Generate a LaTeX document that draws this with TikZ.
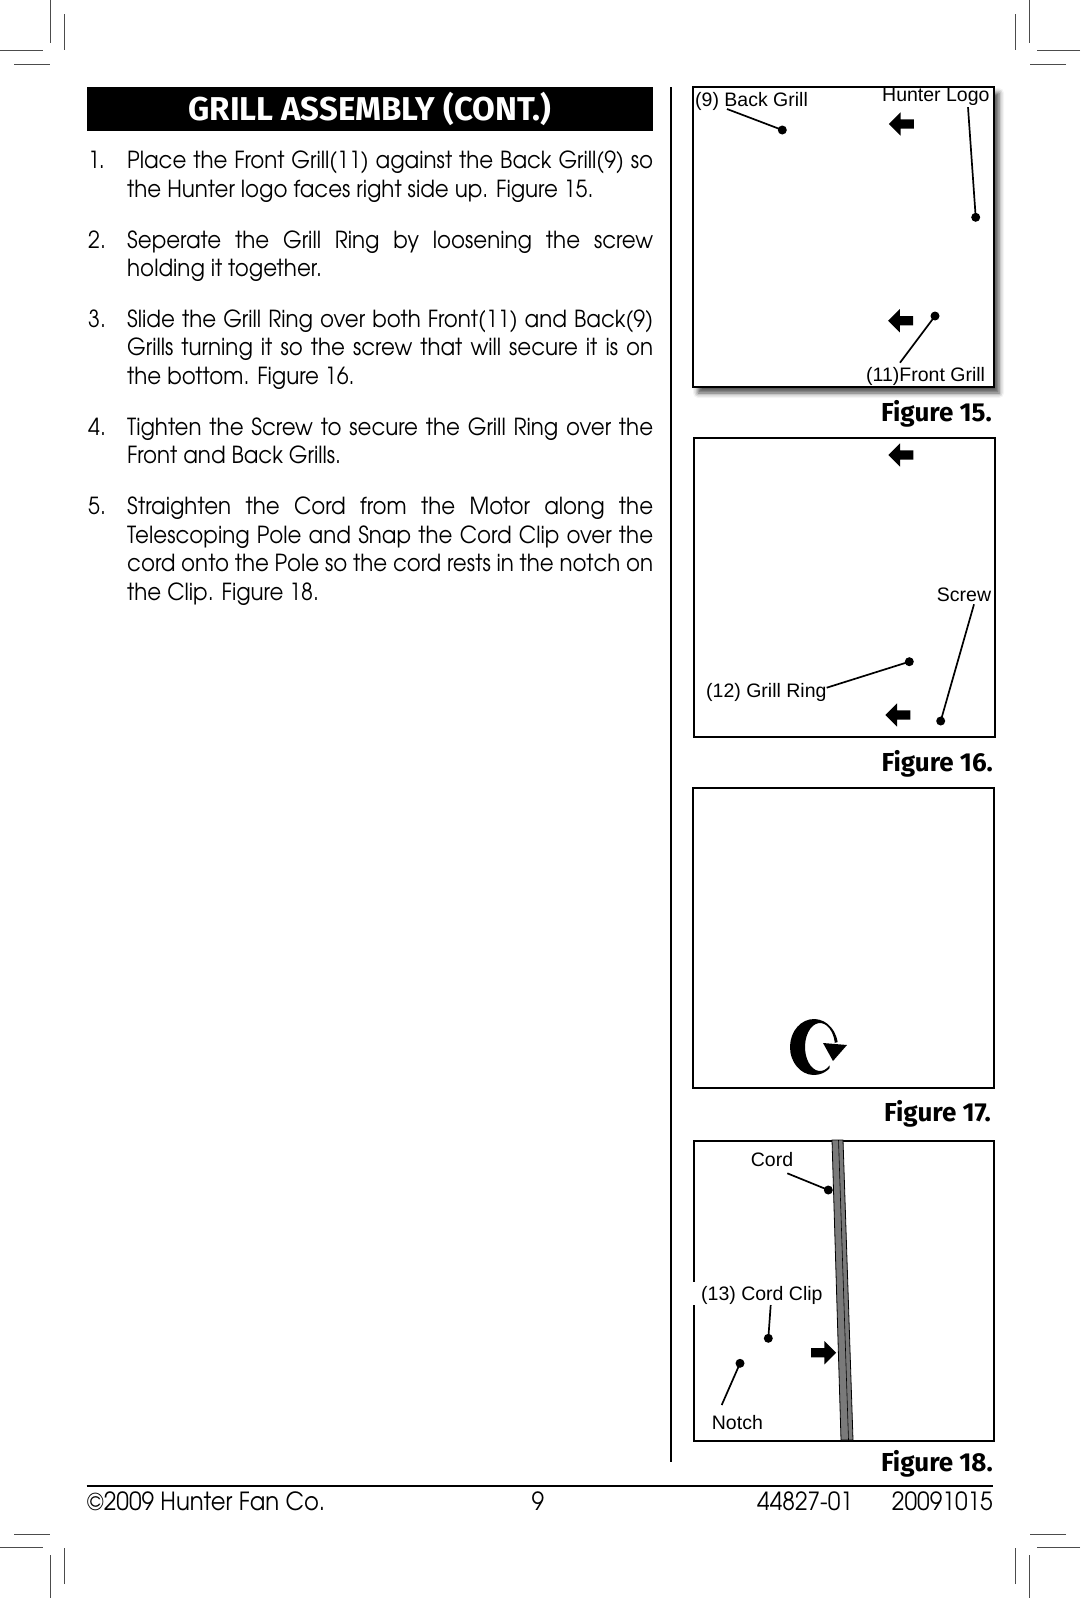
\documentclass[tikz,border=0pt]{standalone}
\usepackage{fontspec}
\setmainfont{texgyreadventor-regular.otf}[FakeStretch=0.91]
\newfontfamily\headfont{Fira Sans}
\newfontfamily\labelfont{Liberation Sans}
\usetikzlibrary{shapes.arrows,shadows.blur}

\begin{document}
\begin{tikzpicture}[x=1pt,y=-1pt,
	body/.style={anchor=base west,inner sep=0pt,font=\fontsize{23.5}{28}\selectfont},
	callout/.style={anchor=base west,inner sep=0pt,font=\labelfont\fontsize{19.5}{22}\selectfont},
	figcap/.style={anchor=base east,inner sep=0pt,font=\headfont\bfseries\fontsize{26}{30}\selectfont},
	frame/.style={draw,line width=2pt,fill=white,inner sep=0pt,anchor=north west},
	dot/.style={circle,fill,inner sep=0pt,minimum size=9pt},
	leader/.style={line width=1.7pt},
	pointer/.style={single arrow,fill,inner xsep=0pt,inner ysep=4.5pt,minimum height=25pt,single arrow head extend=7pt},
	cropmark/.style={line width=0.8pt,black!70}]
	\useasboundingbox (0,0) rectangle (1080,1598);

	% crop marks
	\foreach \sx/\sy/\ox/\oy in {1/1/0/0,-1/1/1080/0,1/-1/0/1598,-1/-1/1080/1598}{
		\begin{scope}[shift={(\ox,\oy)},xscale=\sx,yscale=\sy]
			\draw[cropmark] (50.7,0) -- (50.7,43);
			\draw[cropmark] (64.3,14) -- (64.3,50);
			\draw[cropmark] (0,50.7) -- (43,50.7);
			\draw[cropmark] (14,64) -- (50,64);
		\end{scope}
	}

	% heading and steps
	\node[fill=black,text=white,inner sep=0pt,anchor=north west,minimum width=566.4pt,minimum height=43.8pt,
		font=\headfont\bfseries\fontsize{33}{36}\selectfont] (title) at (86.6,86.6) {GRILL ASSEMBLY (CONT.)};

	\node[body] (n1) at (88,168.5) {1.};
	\node[body] (s1a) at (127,168.5) {\makebox[526pt][s]{Place the Front Grill(11) against the Back Grill(9) so}};
	\node[body] (s1b) at (127,197) {the Hunter logo faces right side up. Figure 15.};
	\node[body] (n2) at (88,248) {2.};
	\node[body] (s2a) at (127,248) {\makebox[526pt][s]{Seperate the Grill Ring by loosening the screw}};
	\node[body] (s2b) at (127,276.5) {holding it together.};
	\node[body] (n3) at (88,327) {3.};
	\node[body] (s3a) at (127,327) {\makebox[526pt][s]{Slide the Grill Ring over both Front(11) and Back(9)}};
	\node[body] (s3b) at (127,355.5) {\makebox[526pt][s]{Grills turning it so the screw that will secure it is on}};
	\node[body] (s3c) at (127,384) {the bottom. Figure 16.};
	\node[body] (n4) at (88,435) {4.};
	\node[body] (s4a) at (127,435) {\makebox[526pt][s]{Tighten the Screw to secure the Grill Ring over the}};
	\node[body] (s4b) at (127,463.5) {Front and Back Grills.};
	\node[body] (n5) at (88,514.5) {5.};
	\node[body] (s5a) at (127,514.5) {\makebox[526pt][s]{Straighten the Cord from the Motor along the}};
	\node[body] (s5b) at (127,543) {\makebox[526pt][s]{Telescoping Pole and Snap the Cord Clip over the}};
	\node[body] (s5c) at (127,571.5) {\makebox[526pt][s]{cord onto the Pole so the cord rests in the notch on}};
	\node[body] (s5d) at (127,600) {the Clip. Figure 18.};

	\draw[line width=2pt] (671,87) -- (671,1462);

	% figure 15
	\node[frame,minimum width=301pt,minimum height=300pt,
		blur shadow={shadow xshift=5pt,shadow yshift=-6pt,shadow blur radius=5pt,shadow opacity=70}] (fig15) at (692,86) {};
	\node[callout] (back) at (695,106) {(9) Back Grill};
	\node[callout] (logo) at (882,101.7) {Hunter Logo};
	\node[callout] (front) at (866,381.7) {(11)Front Grill};
	\node[dot] (d9) at (782.3,130) {};
	\node[dot] (dlogo) at (975.7,217.3) {};
	\node[dot] (d11) at (935,316) {};
	\draw[leader] ([xshift=32pt,yshift=-3pt]back.base west) -- (d9.center);
	\draw[leader] ([xshift=86pt,yshift=-5.5pt]logo.base west) -- (dlogo.center);
	\draw[leader] ([xshift=34pt,yshift=19pt]front.base west) -- (d11.center);
	\node[pointer,shape border rotate=180] (p15a) at (903.7,124) {};
	\node[pointer,shape border rotate=180] (p15b) at (902.9,320.7) {};
	\node[figcap] (cap15) at (992,421) {Figure 15.};

	% figure 16
	\node[frame,minimum width=301pt,minimum height=299pt] (fig16) at (693,437) {};
	\node[callout] (screw) at (936.7,601) {Screw};
	\node[callout] (ring) at (706,697.7) {(12) Grill Ring};
	\node[dot] (dscrew) at (940.7,721) {};
	\node[dot] (d12) at (909.3,661.7) {};
	\draw[leader] ([xshift=37.3pt,yshift=-3.3pt]screw.base west) -- (dscrew.center);
	\draw[leader] ([xshift=120.7pt,yshift=10pt]ring.base west) -- (d12.center);
	\node[pointer,shape border rotate=180] (p16a) at (903.3,455) {};
	\node[pointer,shape border rotate=180] (p16b) at (900.3,715) {};
	\node[figcap] (cap16) at (993,771.5) {Figure 16.};

	% figure 17
	\node[frame,minimum width=301pt,minimum height=300pt] (fig17) at (692,787) {};
	\fill (814,1047) ++(-10:24 and 28) arc[start angle=-10,end angle=-310,x radius=24,y radius=28]
		-- ([shift={(-310:15 and 24)}]820,1047) arc[start angle=-310,end angle=-10,x radius=15,y radius=24] -- cycle;
	\fill (823,1043) -- (847,1045) -- (833,1061) -- cycle;
	\node[figcap] (cap17) at (991,1121) {Figure 17.};

	% figure 18
	\node[frame,minimum width=300pt,minimum height=300pt] (fig18) at (693,1140) {};
	\filldraw[fill=black!52,line width=0.8pt] (832,1140) -- (843,1140) -- (853,1440) -- (841,1440) -- cycle;
	\draw[line width=0.6pt] (838.5,1140) -- (848.5,1440);
	\fill[white] (689,1282) rectangle (700,1305);
	\node[callout] (cord) at (750.7,1166.7) {Cord};
	\node[callout] (clip) at (701,1300) {(13) Cord Clip};
	\node[callout] (notch) at (711.7,1429.3) {Notch};
	\node[dot] (dcord) at (828.3,1190) {};
	\node[dot] (d13) at (768.3,1338.3) {};
	\node[dot] (dnotch) at (740,1363.3) {};
	\draw[leader] ([xshift=36.6pt,yshift=-6.6pt]cord.base west) -- (dcord.center);
	\draw[leader] ([xshift=69.7pt,yshift=-5pt]clip.base west) -- (d13.center);
	\draw[leader] ([xshift=10pt,yshift=24.3pt]notch.base west) -- (dnotch.center);
	\node[pointer] (p18) at (821.2,1352.7) {};
	\node[figcap] (cap18) at (993,1471.5) {Figure 18.};

	% footer
	\draw[line width=1.5pt] (86.6,1486) -- (993,1486);
	\node[body,font=\fontsize{25}{28}\selectfont] (copy) at (86.6,1510.7) {©2009 Hunter Fan Co.};
	\node[body,font=\fontsize{25}{28}\selectfont,anchor=base] (page) at (538,1510.7) {9};
	\node[body,font=\fontsize{25}{28}\selectfont] (partno) at (757,1510.7) {44827-01};
	\node[body,font=\fontsize{25}{28}\selectfont,anchor=base east] (date) at (993,1510.7) {20091015};
\end{tikzpicture}
\end{document}
